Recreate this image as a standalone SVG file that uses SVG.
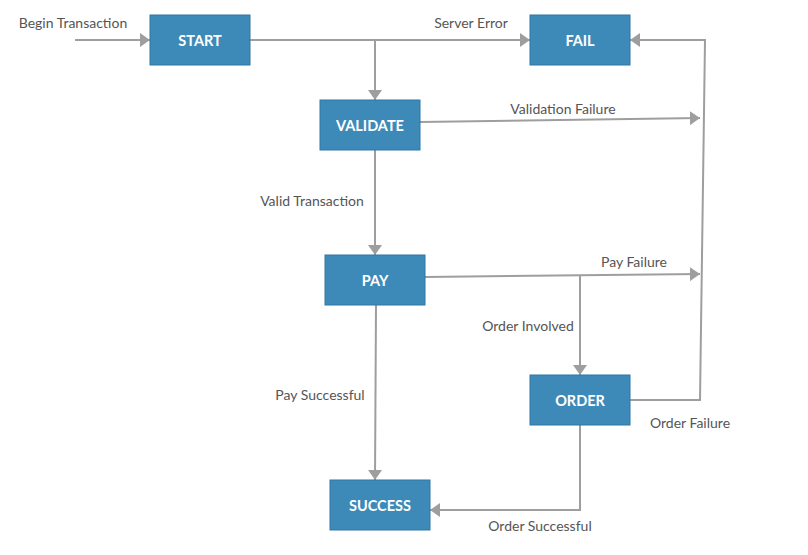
<svg xmlns="http://www.w3.org/2000/svg" width="808" height="555" viewBox="0 0 808 555">
<defs>
<marker id="ah" viewBox="0 0 10 14" refX="10" refY="7" markerWidth="10" markerHeight="14" markerUnits="userSpaceOnUse" orient="auto">
<path d="M0,0 L10,7 L0,14 Z" fill="#9e9e9e"/>
</marker>
<style>
.n rect{fill:#3d8ab9;stroke:#2e77a3;stroke-width:1}
.n text{font-family:Lato,"Liberation Sans",sans-serif;font-weight:bold;font-size:14.5px;fill:#fff;text-anchor:middle}
.c path{fill:none;stroke:#9e9e9e;stroke-width:2}
.l{font-family:Lato,"Liberation Sans",sans-serif;font-size:14px;fill:#555;text-anchor:middle}
</style>
</defs>
<rect width="808" height="555" fill="#fff"/>
<g id="connectors" class="c">
<path d="M75,40 H150" marker-end="url(#ah)"/>
<path d="M250,40 H530" marker-end="url(#ah)"/>
<path d="M375,40 V100" marker-end="url(#ah)"/>
<path d="M420,122 L700,118" marker-end="url(#ah)"/>
<path d="M630,400 H700 L705,40 H630" marker-end="url(#ah)"/>
<path d="M375,150 V255" marker-end="url(#ah)"/>
<path d="M425,277 L700,274" marker-end="url(#ah)"/>
<path d="M580,275 V375" marker-end="url(#ah)"/>
<path d="M376,305 L375,480" marker-end="url(#ah)"/>
<path d="M580,425 V510 H430" marker-end="url(#ah)"/>
</g>
<g id="labels">
<text class="l" x="73" y="28">Begin Transaction</text>
<text class="l" x="471" y="28">Server Error</text>
<text class="l" x="563" y="114">Validation Failure</text>
<text class="l" x="312" y="206">Valid Transaction</text>
<text class="l" x="634" y="267">Pay Failure</text>
<text class="l" x="528" y="331">Order Involved</text>
<text class="l" x="320" y="400">Pay Successful</text>
<text class="l" x="690" y="428">Order Failure</text>
<text class="l" x="540" y="531">Order Successful</text>
</g>
<g id="start" class="n"><rect x="150" y="15" width="100" height="50"/><text x="200" y="46">START</text></g>
<g id="fail" class="n"><rect x="530" y="15" width="100" height="50"/><text x="580" y="46">FAIL</text></g>
<g id="validate" class="n"><rect x="320" y="100" width="100" height="50"/><text x="370" y="131">VALIDATE</text></g>
<g id="pay" class="n"><rect x="325" y="255" width="100" height="50"/><text x="375" y="286">PAY</text></g>
<g id="order" class="n"><rect x="530" y="375" width="100" height="50"/><text x="580" y="406">ORDER</text></g>
<g id="success" class="n"><rect x="330" y="480" width="100" height="50"/><text x="380" y="511">SUCCESS</text></g>
</svg>
